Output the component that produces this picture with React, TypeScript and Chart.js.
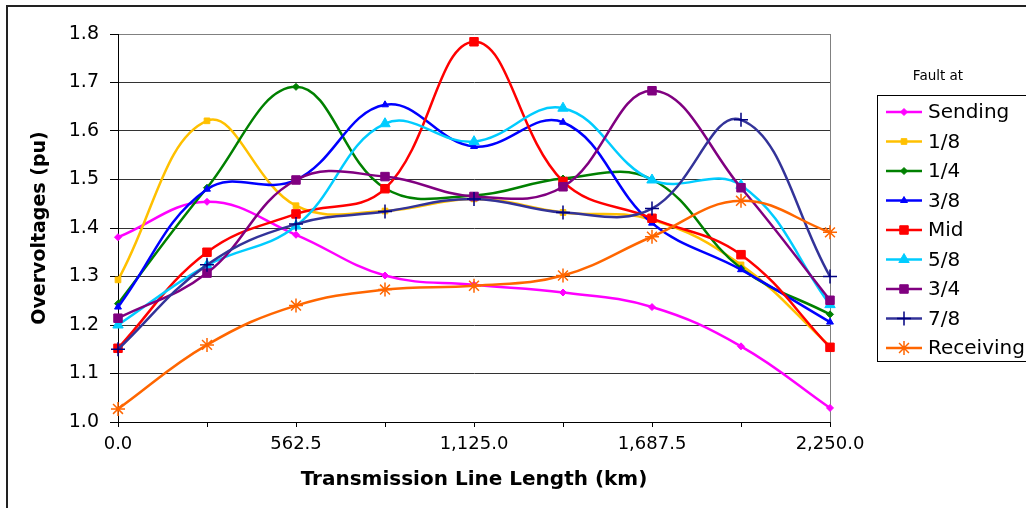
import React, { useEffect, useRef } from 'react';
import { Chart, registerables } from 'chart.js';
import { drawPoint } from 'chart.js/helpers';

Chart.register(...registerables);

// Distance along the line (km)
const xKm = [0, 281.25, 562.5, 843.75, 1125, 1406.25, 1687.5, 1968.75, 2250];

// Overvoltages (pu) for each fault location
const sending = [1.381, 1.454, 1.386, 1.302, 1.283, 1.267, 1.237, 1.156, 1.029];
const oneEighth = [1.293, 1.621, 1.446, 1.435, 1.46, 1.432, 1.417, 1.324, 1.156];
const oneQuarter = [1.244, 1.483, 1.691, 1.482, 1.467, 1.502, 1.5, 1.317, 1.222];
const threeEighths = [1.237, 1.48, 1.499, 1.654, 1.568, 1.618, 1.41, 1.314, 1.206];
const mid = [1.152, 1.35, 1.429, 1.481, 1.784, 1.496, 1.42, 1.345, 1.154];
const fiveEighths = [1.2, 1.323, 1.404, 1.615, 1.578, 1.647, 1.499, 1.488, 1.242];
const threeQuarters = [1.214, 1.307, 1.499, 1.506, 1.465, 1.485, 1.683, 1.483, 1.251];
const sevenEighths = [1.15, 1.324, 1.408, 1.434, 1.46, 1.432, 1.44, 1.623, 1.3];
const receiving = [1.027, 1.159, 1.24, 1.273, 1.281, 1.302, 1.382, 1.456, 1.391];

const seriesLabels = ['Sending', '1/8', '1/4', '3/8', 'Mid', '5/8', '3/4', '7/8', 'Receiving'];
const seriesData = [sending, oneEighth, oneQuarter, threeEighths, mid, fiveEighths, threeQuarters, sevenEighths, receiving];

const lineColors = ['#FF00FF', '#FFC000', '#008000', '#0000FF', '#FF0000', '#00CCFF', '#800080', '#333399', '#FF6600'];
const markerColors = ['#FF00FF', '#FFC000', '#008000', '#0000FF', '#FF0000', '#00CCFF', '#800080', '#000080', '#FF6600'];
const markerStyles = ['rectRot', 'rect', 'rectRot', 'triangle', 'rect', 'triangle', 'rect', 'cross', 'star'];
const markerRadii = [3.5, 4, 3.5, 4, 6, 6, 6, 7, 7];

const yTicks = { min: 1.0, max: 1.8, step: 0.1 };
const legendTitle = 'Fault at';
const xTitle = 'Transmission Line Length (km)';
const yTitle = 'Overvoltages (pu)';

const FONT = '"DejaVu Sans", "Liberation Sans", Arial, sans-serif';

const fmtKm = (v: number) =>
  v.toLocaleString('en-US', { minimumFractionDigits: 1, maximumFractionDigits: 1 });

const overlayPlugin = {
  id: 'overlay',
  beforeDatasetsDraw(chart: any) {
    const { ctx, chartArea } = chart;
    ctx.save();
    ctx.strokeStyle = '#808080';
    ctx.lineWidth = 1;
    const x = Math.round(chartArea.right) + 0.5;
    ctx.beginPath();
    ctx.moveTo(x, chartArea.top);
    ctx.lineTo(x, chartArea.bottom);
    ctx.stroke();
    ctx.restore();
  },
  afterDraw(chart: any) {
    const { ctx } = chart;
    ctx.save();
    // outer frame
    ctx.strokeStyle = '#222222';
    ctx.lineWidth = 2;
    ctx.beginPath();
    ctx.moveTo(7, 520);
    ctx.lineTo(7, 6);
    ctx.lineTo(1040, 6);
    ctx.stroke();

    // legend title
    ctx.fillStyle = '#000';
    ctx.font = '13.5px ' + FONT;
    ctx.textAlign = 'center';
    ctx.textBaseline = 'middle';
    ctx.fillText(legendTitle, 938, 76);

    // legend box
    ctx.strokeStyle = '#000';
    ctx.lineWidth = 1;
    ctx.strokeRect(877.5, 95.5, 200, 266);

    const y0 = 112;
    const dy = 29.5;
    chart.data.datasets.forEach((ds: any, i: number) => {
      const y = y0 + i * dy;
      ctx.strokeStyle = ds.borderColor;
      ctx.lineWidth = 2.5;
      ctx.beginPath();
      ctx.moveTo(886, y);
      ctx.lineTo(922, y);
      ctx.stroke();
      ctx.fillStyle = ds.pointBackgroundColor;
      ctx.strokeStyle = ds.pointBorderColor;
      ctx.lineWidth = ds.pointBorderWidth;
      drawPoint(ctx, { pointStyle: ds.pointStyle, radius: ds.pointRadius, rotation: 0, borderWidth: ds.pointBorderWidth }, 904, y);
      ctx.fillStyle = '#000';
      ctx.font = '20px ' + FONT;
      ctx.textAlign = 'left';
      ctx.textBaseline = 'middle';
      ctx.fillText(ds.label, 928, y + 1);
    });
    ctx.restore();
  },
};

export default function App() {
  const ref = useRef<HTMLCanvasElement | null>(null);

  useEffect(() => {
    if (!ref.current) return;
    const n = seriesLabels.length;
    const chart = new Chart(ref.current, {
      type: 'line',
      data: {
        labels: xKm.map(fmtKm),
        datasets: seriesLabels.map((label, i) => ({
          label,
          data: seriesData[i],
          borderColor: lineColors[i],
          backgroundColor: markerColors[i],
          borderWidth: 2.5,
          tension: 0.4,
          fill: false,
          pointStyle: markerStyles[i],
          pointRadius: markerRadii[i],
          pointHoverRadius: markerRadii[i],
          pointBackgroundColor: markerColors[i],
          pointBorderColor: markerColors[i],
          pointBorderWidth: markerStyles[i] === 'cross' || markerStyles[i] === 'star' ? 1.5 : 1,
          clip: false,
          order: n - i,
        })),
      },
      options: {
        animation: false,
        responsive: false,
        maintainAspectRatio: false,
        layout: { padding: { left: 0, top: 34, right: 196, bottom: 0 } },
        plugins: {
          legend: { display: false },
          tooltip: { enabled: false },
        },
        events: [],
        scales: {
          x: {
            type: 'category',
            afterFit: (s: any) => {
              s.height = 86;
            },
            grid: {
              display: true,
              drawOnChartArea: false,
              drawTicks: true,
              tickLength: 5,
              color: '#000',
            },
            border: { display: true, color: '#000', width: 1 },
            ticks: {
              autoSkip: false,
              maxRotation: 0,
              minRotation: 0,
              padding: 7,
              color: '#000',
              font: { family: FONT, size: 18 },
              callback: function (this: any, val: any, idx: number) {
                return idx % 2 === 0 ? this.getLabelForValue(val) : '';
              },
            },
            title: {
              display: true,
              text: xTitle,
              color: '#000',
              font: { family: FONT, size: 20, weight: 'bold' },
              padding: { top: 0, bottom: 16 },
            },
          },
          y: {
            type: 'linear',
            min: yTicks.min,
            max: yTicks.max,
            afterFit: (s: any) => {
              s.width = 118;
            },
            grid: {
              display: true,
              drawOnChartArea: true,
              drawTicks: true,
              tickLength: 8,
              color: (c: any) => (c.tick && c.tick.value >= 1.799 ? '#808080' : '#333333'),
              tickColor: '#000',
            },
            border: { display: true, color: '#000', width: 1 },
            ticks: {
              stepSize: yTicks.step,
              padding: 11,
              color: '#000',
              font: { family: FONT, size: 19 },
              callback: (v: any) => Number(v).toFixed(1),
            },
            title: {
              display: true,
              text: yTitle,
              color: '#000',
              font: { family: FONT, size: 19, weight: 'bold' },
              padding: { top: 28.6, bottom: 0 },
            },
          },
        },
      },
      plugins: [overlayPlugin],
    });
    return () => chart.destroy();
  }, []);

  return (
    <div style={{ position: 'fixed', left: 0, top: 0, width: 1026, height: 508, background: '#fff' }}>
      <canvas ref={ref} width={1026} height={508} style={{ display: 'block', width: 1026, height: 508 }} />
    </div>
  );
}
